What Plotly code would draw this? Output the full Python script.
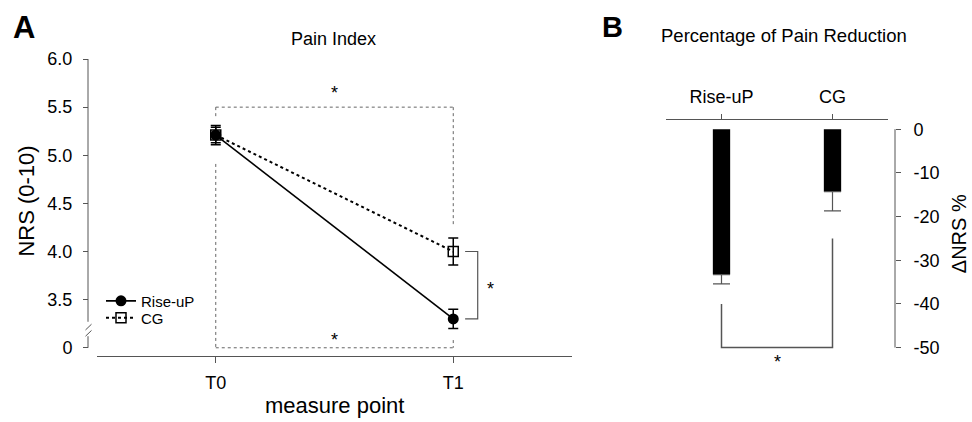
import plotly.graph_objects as go

# ---------------- data ----------------
time_points = ["T0", "T1"]
rise_up_nrs = [5.21, 3.30]
rise_up_err = [0.10, 0.10]
cg_nrs = [5.21, 4.00]
cg_err = [0.08, 0.14]

y_tick_vals = [3.0, 3.5, 4.0, 4.5, 5.0, 5.5, 6.0]
y_tick_text = ["0", "3.5", "4.0", "4.5", "5.0", "5.5", "6.0"]

groups = ["Rise-uP", "CG"]
delta_nrs = [-33.3, -14.3]
delta_err = [2.1, 4.4]
b_tick_vals = [0, -10, -20, -30, -40, -50]
b_tick_text = ["0", "-10", "-20", "-30", "-40", "-50"]

W, H = 972, 422
FONT = "Liberation Sans, Arial, Helvetica, sans-serif"
AX = "#555555"


def px(x):
    return x / W


def py(y):
    return 1 - y / H


fig = go.Figure()

xa = list(range(len(time_points)))
fig.add_trace(go.Scatter(
    x=xa, y=cg_nrs, name="CG", mode="lines+markers", legend="legend2",
    line=dict(color="black", width=2, dash="dot"),
    marker=dict(symbol="square-open", size=10, color="black", line=dict(width=1.5, color="black")),
    error_y=dict(type="data", array=cg_err, color="black", thickness=1.5, width=5),
    xaxis="x", yaxis="y"))
fig.add_trace(go.Scatter(
    x=xa, y=rise_up_nrs, name="Rise-uP", mode="lines+markers", legend="legend",
    line=dict(color="black", width=1.6),
    marker=dict(symbol="circle", size=11, color="black"),
    error_y=dict(type="data", array=rise_up_err, color="black", thickness=1.5, width=5),
    xaxis="x", yaxis="y"))

xb = list(range(len(groups)))
fig.add_trace(go.Bar(
    x=xb, y=delta_nrs, width=0.156, marker=dict(color="black", line=dict(width=0)),
    error_y=dict(type="data", symmetric=False, array=[0] * len(groups), arrayminus=delta_err,
                 color=AX, thickness=1.2, width=8.5),
    showlegend=False, xaxis="x2", yaxis="y2"))

shapes = []
# panel A y axis line with break
ya_top, ya_brk_hi, ya_brk_lo, ya_bot = 6.0, 3.27, 3.12, 3.0
lineA = dict(color=AX, width=1)
shapes.append(dict(type="line", xref="paper", yref="y", x0=px(88), x1=px(88), y0=ya_top, y1=ya_brk_hi, line=lineA))
shapes.append(dict(type="line", xref="paper", yref="y", x0=px(88), x1=px(88), y0=ya_brk_lo, y1=ya_bot, line=lineA))
shapes.append(dict(type="line", xref="paper", yref="y", x0=px(85.5), x1=px(91.5), y0=3.185, y1=3.245, line=lineA))
shapes.append(dict(type="line", xref="paper", yref="y", x0=px(85.5), x1=px(91.5), y0=3.12, y1=3.18, line=lineA))

# dotted comparison box (T0 -> T1 both groups)
dot = dict(color="#666666", width=1, dash="dot")
shapes.append(dict(type="line", xref="x", yref="y", x0=0, x1=1, y0=5.5, y1=5.5, line=dot))
shapes.append(dict(type="line", xref="x", yref="y", x0=0, x1=1, y0=3.0, y1=3.0, line=dot))
shapes.append(dict(type="line", xref="x", yref="y", x0=0, x1=0, y0=5.5, y1=5.39, line=dot))
shapes.append(dict(type="line", xref="x", yref="y", x0=0, x1=0, y0=4.91, y1=3.0, line=dot))
shapes.append(dict(type="line", xref="x", yref="y", x0=1, x1=1, y0=5.5, y1=4.26, line=dot))
shapes.append(dict(type="line", xref="x", yref="y", x0=1, x1=1, y0=3.08, y1=3.0, line=dot))

# bracket at T1
br = dict(color=AX, width=1.2)
shapes.append(dict(type="path", xref="x", yref="y",
                   path=f"M 1.05,{cg_nrs[1]} L 1.103,{cg_nrs[1]} L 1.103,{rise_up_nrs[1]} L 1.05,{rise_up_nrs[1]}",
                   line=br))

# panel B right y axis line
shapes.append(dict(type="line", xref="paper", yref="y2", x0=px(895), x1=px(895), y0=0, y1=-50, line=lineA))
# bracket B
shapes.append(dict(type="path", xref="x2", yref="y2",
                   path="M 0,-40 L 0,-50 L 1,-50 L 1,-25", line=dict(color=AX, width=1.5)))

C = dict(xanchor="center", yanchor="middle", showarrow=False)
ann = []
ann.append(dict(text="<b>A</b>", x=px(24), y=py(25), xref="paper", yref="paper",
                font=dict(size=31, color="black"), **C))
ann.append(dict(text="<b>B</b>", x=px(612), y=py(24), xref="paper", yref="paper",
                font=dict(size=29, color="black"), **C))
ann.append(dict(text="Pain Index", x=px(333), y=py(36), xref="paper", yref="paper",
                font=dict(size=18, color="black"), **C))
ann.append(dict(text="Percentage of Pain Reduction", x=px(784), y=py(33), xref="paper", yref="paper",
                font=dict(size=18.5, color="black"), **C))
ann.append(dict(text="NRS (0-10)", x=px(27), y=py(201), xref="paper", yref="paper",
                textangle=-90, font=dict(size=22, color="black"), **C))
ann.append(dict(text="measure point", x=px(334), y=py(407), xref="paper", yref="paper",
                font=dict(size=22, color="black"), **C))
ann.append(dict(text="ΔNRS %", x=px(959), y=py(234), xref="paper", yref="paper",
                textangle=-90, font=dict(size=20, color="black"), **C))
star = dict(size=18, color="black")
ann.append(dict(text="*", x=0.5, y=5.5, xref="x", yref="y", yshift=14, font=star, **C))
ann.append(dict(text="*", x=0.5, y=3.0, xref="x", yref="y", yshift=8, font=star, **C))
ann.append(dict(text="*", x=1.155, y=3.65, xref="x", yref="y", yshift=-4, font=star, **C))
ann.append(dict(text="*", x=0.5, y=-50, xref="x2", yref="y2", yshift=-14, font=star, **C))

tickfont = dict(size=18, color="black", family=FONT)
legfont = dict(size=15, color="black", family=FONT)

fig.update_layout(
    width=W, height=H, margin=dict(l=0, r=0, t=0, b=0),
    paper_bgcolor="white", plot_bgcolor="rgba(0,0,0,0)",
    font=dict(family=FONT, color="black"),
    showlegend=True,
    legend=dict(x=px(101), y=py(285), xanchor="left", yanchor="top",
                bgcolor="rgba(0,0,0,0)", font=legfont, itemwidth=30),
    legend2=dict(x=px(101), y=py(302), xanchor="left", yanchor="top",
                 bgcolor="rgba(0,0,0,0)", font=legfont, itemwidth=30),
    xaxis=dict(domain=[px(97), px(572)], range=[-0.5, 1.5], tickvals=xa, ticktext=time_points,
               showline=True, linecolor=AX, linewidth=1, ticks="outside", ticklen=6, tickcolor=AX,
               showgrid=False, zeroline=False, tickfont=tickfont, anchor="y",
               ticklabelstandoff=5),
    yaxis=dict(domain=[py(357), py(50)], range=[2.9168, 6.0688], tickvals=y_tick_vals,
               ticktext=y_tick_text, anchor="free", position=px(88), showline=False,
               ticks="outside", ticklen=5, tickcolor=AX, showgrid=False, zeroline=False,
               tickfont=tickfont, ticklabelstandoff=7),
    xaxis2=dict(domain=[px(666), px(888)], range=[-0.5, 1.5], tickvals=xb, ticktext=groups,
                side="top", anchor="y2", showline=True, linecolor=AX, linewidth=1, ticks="outside",
                ticklen=5, tickcolor=AX, showgrid=False, zeroline=False, tickfont=tickfont,
                ticklabelstandoff=4),
    yaxis2=dict(domain=[py(357), py(118.3)], range=[-51.88, 2.127], tickvals=b_tick_vals,
                ticktext=b_tick_text,
                anchor="free", position=px(895), side="right", showline=False, ticks="outside",
                ticklen=5, tickcolor=AX, showgrid=False, zeroline=False, tickfont=tickfont,
                ticklabelstandoff=9),
    shapes=shapes, annotations=ann,
)

fig.write_html("out.html", config={"displayModeBar": False},
               post_script="document.body.style.margin='0';document.body.style.overflow='hidden';")
